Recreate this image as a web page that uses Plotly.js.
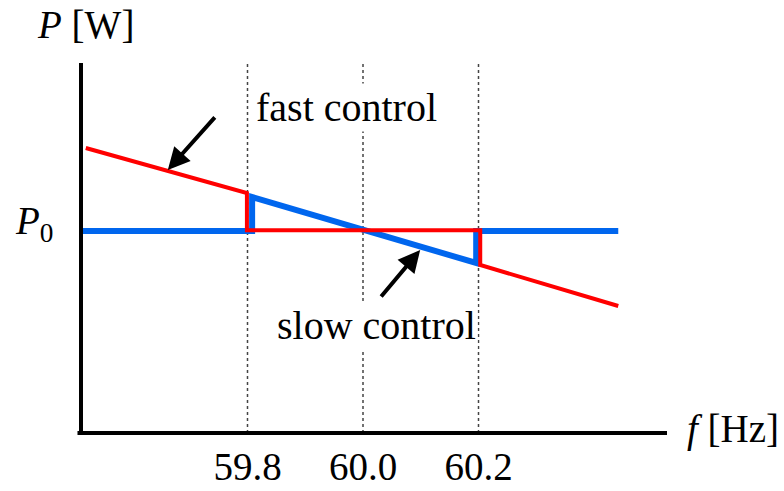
<!DOCTYPE html>
<html>
<head>
<meta charset="utf-8">
<script src="https://cdn.plot.ly/plotly-3.0.1.min.js"></script>
<style>html,body{margin:0;padding:0;background:#fff;}#chart{width:784px;height:491px;}</style>
</head>
<body>
<div id="chart"></div>
<script>
// frequency ticks (Hz)
const fTicks = [59.8, 60.0, 60.2];
const fTickText = ['59.8', '60.0', '60.2'];

// fast control (red) characteristic, P relative to P0 = 1
const fastF = [59.520, 59.799, 59.799, 60.203, 60.203, 60.442];
const fastP = [1.411, 1.188, 1.004, 1.004, 0.832, 0.629];

// slow control (blue) characteristic
const slowF = [59.513, 59.808, 59.808, 60.196, 60.196, 60.442];
const slowP = [1.0, 1.0, 1.168, 0.842, 1.0, 1.0];

// arrow heads pointing at the curves
const fastArrowF = 59.662, fastArrowP = 1.302;
const slowArrowF = 60.099, slowArrowP = 0.906;

const FONT = 'Liberation Serif, Times New Roman, serif';

const traces = [
  {x: slowF, y: slowP, type: 'scatter', mode: 'lines',
   line: {color: '#0066ee', width: 6}, hoverinfo: 'skip'},
  {x: fastF, y: fastP, type: 'scatter', mode: 'lines',
   line: {color: '#ff0000', width: 4}, hoverinfo: 'skip'}
];

const shapes = fTicks.map(f => ({
  type: 'line', layer: 'below', xref: 'x', yref: 'paper',
  x0: f, x1: f, y0: 0, y1: 1,
  line: {color: '#444', width: 1.5, dash: 'dot'}
}));
shapes.push({type: 'line', xref: 'paper', yref: 'paper', x0: 0, x1: 0, y0: 0, y1: 1,
  line: {color: '#000', width: 4}});
shapes.push({type: 'line', xref: 'paper', yref: 'paper', x0: -0.006, x1: 1, y0: 0, y1: 0,
  line: {color: '#000', width: 4}});

const annotations = [
  {xref: 'paper', yref: 'paper', x: 0.0085, y: 1.103, xanchor: 'center', yanchor: 'middle',
   showarrow: false, text: '<i>P</i> [W]', font: {family: FONT, size: 39, color: '#000'}},
  {xref: 'paper', yref: 'paper', x: 1.1126, y: 0.01, xanchor: 'center', yanchor: 'middle',
   showarrow: false, text: '<i>f</i> [Hz]', font: {family: FONT, size: 39, color: '#000'}},
  {xref: 'paper', yref: 'paper', x: -0.080, y: 0.565, xanchor: 'center', yanchor: 'middle',
   showarrow: false, text: '<i>P</i><sub>0</sub>', font: {family: FONT, size: 39, color: '#000'}},
  {xref: 'x', yref: 'y', x: 60.0, y: 1.61, xanchor: 'center', showarrow: false, xshift: -17,
   text: 'fast control', bgcolor: '#fff', font: {family: FONT, size: 40, color: '#000'}},
  {xref: 'x', yref: 'y', x: 60.0, y: 0.53, xanchor: 'center', showarrow: false, xshift: 13,
   text: 'slow control', bgcolor: '#fff', font: {family: FONT, size: 40, color: '#000'}},
  {xref: 'x', yref: 'y', x: fastArrowF, y: fastArrowP, ax: 50, ay: -56, text: ' ',
   showarrow: true, arrowhead: 2, arrowsize: 1.1, arrowwidth: 4, arrowcolor: '#000'},
  {xref: 'x', yref: 'y', x: slowArrowF, y: slowArrowP, ax: -42, ay: 50, text: ' ',
   showarrow: true, arrowhead: 2, arrowsize: 1.1, arrowwidth: 4, arrowcolor: '#000'}
];

const layout = {
  width: 784, height: 491,
  margin: {l: 81, r: 117, t: 63, b: 58},
  paper_bgcolor: '#fff', plot_bgcolor: '#fff',
  showlegend: false,
  xaxis: {range: [59.5117, 60.5264], tickvals: fTicks, ticktext: fTickText,
    showgrid: false, zeroline: false, showline: false, ticks: '',
    ticklabelstandoff: 7,
    tickfont: {family: FONT, size: 39, color: '#000'}, fixedrange: true},
  yaxis: {range: [0, 1.832], showgrid: false, zeroline: false, showline: false,
    showticklabels: false, ticks: '', fixedrange: true},
  shapes: shapes,
  annotations: annotations
};

Plotly.newPlot('chart', traces, layout, {staticPlot: true});
</script>
</body>
</html>
